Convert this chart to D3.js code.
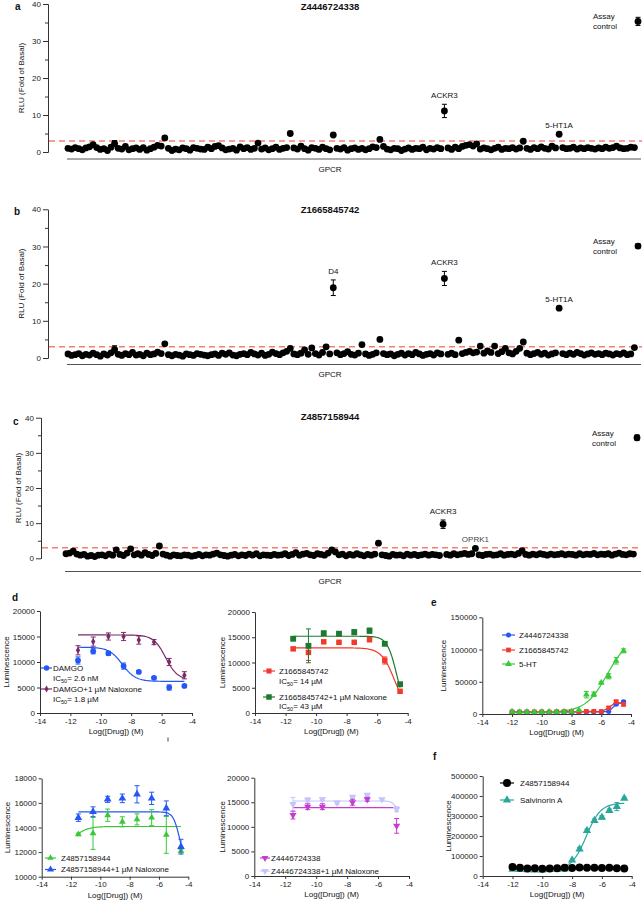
<!DOCTYPE html>
<html><head><meta charset="utf-8">
<script src="https://cdn.jsdelivr.net/npm/d3@7"></script>
<style>body{margin:0;background:#fff}svg{display:block;font-family:"Liberation Sans",Arial,sans-serif}</style>
</head><body>
<script>
// ---------------- DATA ----------------
const screenTicks = [0, 10, 20, 30, 40];
const screenMinor = [5, 15, 25, 35];
const threshold = 3;
const controlLabel = ["Assay", "control"];

const aTitle = "Z4446724338";
const aValues = [
1.0,0.8,1.2,0.9,0.6,1.1,1.4,2.0,1.2,0.7,0.9,0.4,1.3,2.3,1.0,0.8,1.5,0.6,0.9,1.1,
0.7,1.2,0.5,0.9,1.3,1.8,1.6,3.8,1.0,0.4,0.8,0.6,1.1,0.9,0.5,1.2,1.0,0.8,0.7,1.3,
0.9,1.5,1.7,1.1,0.6,0.8,1.0,0.5,1.4,0.9,1.2,0.7,1.0,2.4,0.8,1.1,0.6,0.9,1.3,0.7,
1.0,1.2,5.0,1.1,0.8,1.6,0.9,0.5,1.2,1.0,0.7,1.3,0.9,0.6,4.6,1.0,0.8,1.2,0.5,0.9,
1.1,0.7,1.0,0.6,0.9,1.4,1.2,3.4,1.5,0.8,0.6,1.0,0.9,0.4,0.8,1.1,0.7,1.0,0.9,1.3,
0.6,1.0,0.8,1.2,0.9,11.1,1.1,0.7,1.3,0.9,1.5,1.8,2.0,1.6,2.2,0.8,1.1,0.9,0.6,1.0,
1.3,0.7,1.0,0.9,1.2,0.8,1.1,2.9,1.0,0.7,1.2,0.9,1.4,1.0,0.8,1.6,1.1,4.8,1.2,0.9,
1.0,1.3,0.8,1.1,0.9,1.2,1.0,0.8,1.1,0.9,1.3,1.0,1.2,1.6,1.1,0.9,1.0,1.3,1.2,35.3];
const aErrors = [[13,0.8],[62,0.5],[105,1.8],[159,1.1]];
const aLabels = [[105,"ACKR3"],[137,"5-HT1A"]];

const bTitle = "Z1665845742";
const bValues = [
1.1,0.7,0.9,1.2,0.6,1.0,0.8,1.3,0.9,0.5,1.1,0.8,1.4,2.3,1.0,0.7,1.2,0.9,1.5,0.8,
1.0,0.6,1.3,0.9,1.1,1.6,1.2,3.8,0.9,0.6,1.0,0.8,0.5,1.1,0.9,0.7,1.2,1.0,0.8,0.6,
0.9,1.1,0.7,1.3,1.0,1.4,0.8,0.6,1.0,1.2,0.9,1.5,1.1,0.8,1.3,0.7,1.0,1.6,1.2,0.9,
1.4,1.8,2.6,1.1,0.9,1.3,2.2,1.0,2.7,1.2,0.8,1.5,3.0,1.1,18.9,1.4,0.9,1.2,1.7,1.0,
0.8,1.3,3.6,1.1,0.7,1.0,1.4,5.0,1.2,0.9,1.1,0.6,1.0,1.3,0.8,1.2,0.9,1.5,1.1,0.7,
1.0,1.2,0.8,1.4,1.1,21.4,1.0,1.3,0.9,4.8,1.2,1.5,1.8,1.4,1.6,3.2,1.3,1.9,1.5,3.2,
1.2,1.7,2.6,1.4,1.1,1.8,2.6,4.3,1.3,0.9,1.2,1.5,1.0,1.3,0.8,1.1,1.4,13.4,1.2,0.9,
1.3,1.0,1.5,1.2,0.8,1.1,1.4,1.0,1.2,0.9,1.3,1.1,0.8,1.2,1.0,1.4,0.9,1.1,2.8,30.1];
const bErrors = [[13,1.0],[74,2.1],[105,1.9],[159,0.6]];
const bLabels = [[74,"D4"],[105,"ACKR3"],[137,"5-HT1A"]];

const cTitle = "Z4857158944";
const cValues = [
1.3,1.5,2.0,1.2,0.9,1.1,0.6,0.8,0.5,0.9,1.0,0.7,1.2,0.9,2.4,1.1,0.8,1.5,2.7,1.0,
1.3,0.9,1.6,1.1,0.8,1.4,3.5,1.2,0.9,0.6,1.0,0.8,0.7,1.0,0.9,0.6,0.8,1.1,0.7,1.0,
0.9,1.2,1.5,1.0,0.8,0.6,0.9,1.1,0.7,1.0,0.8,1.2,0.9,1.3,0.7,1.0,0.9,0.8,1.1,0.9,
1.0,1.3,0.8,1.1,1.6,0.9,1.2,1.4,1.0,0.8,1.3,1.1,0.9,1.5,2.4,1.8,1.0,1.2,0.7,1.1,
0.9,1.3,1.0,0.7,1.1,0.9,1.2,4.3,1.0,0.8,0.6,1.1,0.9,1.0,0.7,1.2,0.9,1.1,0.8,1.0,
1.2,0.9,1.1,1.0,0.8,9.7,1.1,0.9,1.3,1.0,1.2,1.4,1.1,1.3,2.8,1.0,0.8,1.1,1.2,0.9,
1.0,1.3,0.9,1.1,1.2,1.0,1.4,2.2,1.1,0.9,1.2,1.0,1.3,1.1,0.9,1.2,1.0,1.1,1.3,1.0,
1.2,1.1,0.9,1.3,1.0,1.2,1.1,1.4,1.0,1.2,1.1,1.3,0.9,1.2,1.5,1.1,1.0,1.3,1.2,34.3];
const cErrors = [[18,0.4],[105,1.2],[159,0.8]];
const cLabels = [[105,"ACKR3"],[114,"OPRK1"]];

// dose-response panels
const xTicks = [-14, -12, -10, -8, -6, -4];
const dose8 = [-11.5,-10.5,-9.5,-8.5,-7.5,-6.5,-5.5,-4.5];

const damgo      = [10300,12100,11700,9200,8050,6900,5000,5300];
const damgoErr   = [700,500,400,600,200,200,500,250];
const damgoNal   = [12300,14000,15000,15000,14300,13900,10000,7400];
const damgoNalErr= [900,900,700,800,800,500,700,700];
const damgoFit    = {top:12900, bottom:6200, logC:-8.585, hill:1};
const damgoNalFit = {top:15300, bottom:6500, logC:-5.74, hill:1.1};

const z166      = [12700,12000,14100,14000,14000,14500,10400,4300];
const z166Err   = [200,1600,200,200,200,300,700,200];
const z166Nal   = [14700,13300,15800,15700,16000,16300,13700,5700];
const z166NalErr= [200,3350,400,300,500,500,200,300];
const z166Fit    = {top:12900, bottom:0, logC:-4.854, hill:1};
const z166NalFit = {top:15200, bottom:0, logC:-4.72, hill:1.4};

const z485      = [13440,13520,15000,14470,14660,14800,13400,12090];
const z485Err   = [100,1300,500,400,450,650,1500,150];
const z485Nal   = [14800,15280,16290,16370,16700,16370,15560,12440];
const z485NalErr= [300,400,250,350,700,500,600,600];
const z485Fit    = {top:14080, bottom:12800, logC:-11.6, hill:-1};
const z485NalFit = {top:15270, bottom:11000, logC:-4.6, hill:2};

const doseBM   = [-11.5,-10.55,-9.6,-8.65,-7.65,-6.7,-5.75,-4.8];
const z444     = [12400,14100,14100,null,15000,15600,null,10200];
const z444Err  = [800,600,600,null,600,400,null,1500];
const z444Nal  = [14600,15500,15600,14900,16100,16500,15600,13600];
const z444NalErr=[1400,400,300,300,200,300,200,500];
const z444Fit    = {top:13900, bottom:13900, logC:-6, hill:1};
const z444NalFit = {top:15260, bottom:10000, logC:-4.65, hill:2.5};

const dose16 = [-12,-11.5,-11,-10.5,-10,-9.5,-9,-8.5,-8,-7.5,-7,-6.5,-6,-5.5,-5,-4.5];
const eZ444 = [3500,3000,3200,3000,3100,3000,3200,3300,3000,3200,3100,3400,3300,4000,15000,19000];
const eZ444Err = [0,0,0,0,0,0,0,0,0,0,0,0,0,0,1500,2000];
const eZ166 = [3200,3000,3300,3200,3300,3000,3500,3700,3500,3600,4000,4200,3800,9500,19000,15000];
const eZ166Err = [0,0,0,0,0,0,0,0,0,0,0,0,0,2000,2500,2500];
const e5HT = [3500,3000,3200,3000,3200,3300,3200,3500,3800,6000,30000,30500,48500,58500,82500,98000];
const e5HTErr = [0,0,0,0,0,0,0,0,0,0,5000,3500,1500,4000,5000,3000];
const e5HTFit = {top:120000, bottom:3000, logC:-5.6, hill:-0.6};

const fZ485 = [45000,41000,37000,39000,36000,37000,39000,41000,40000,42000,41000,41000,40000,41000,39000,38000];
const fSalv = [33000,32000,31000,30000,30000,32000,33000,35000,80000,135000,227000,277000,293000,327000,347000,388000];
const fSalvErr = [0,0,0,0,0,0,0,0,0,8000,8000,8000,8000,8000,20000,6000];
const fSalvFit = {top:365000, bottom:32000, logC:-7.05, hill:-0.9};

// ---------------- DRAWING ----------------
const FONT = '"Liberation Sans",Arial,sans-serif';
const svg = d3.select("body").append("svg").attr("width",643).attr("height",900);

function styleAxis(sel){
  sel.selectAll("path,line").attr("stroke","#333").attr("stroke-width",1);
  sel.selectAll("text").attr("font-size",8).attr("fill","#222").attr("font-family",FONT);
}
function txt(g,x,y,s,o={}){
  return g.append("text").attr("x",x).attr("y",y).attr("dy","0.35em")
    .attr("font-size",o.size||8).attr("font-weight",o.bold?"bold":"normal")
    .attr("text-anchor",o.anchor||"start").attr("fill",o.fill||"#111").text(s);
}

function screenPanel(o){
  const g = svg.append("g");
  const y = d3.scaleLinear().domain([0,40]).range([o.y0,o.y40]);
  const x = d3.scaleLinear().domain([0,o.vals.length-1]).range([o.xa,o.xb]);
  styleAxis(g.append("g").attr("transform",`translate(${o.axisX},0)`)
    .call(d3.axisLeft(y).tickValues(screenTicks).tickSize(5).tickSizeOuter(0).tickPadding(2)));
  styleAxis(g.append("g").attr("transform",`translate(${o.axisX},0)`)
    .call(d3.axisLeft(y).tickValues(screenMinor).tickSize(3).tickSizeOuter(0).tickFormat(()=>"")));
  g.append("line").attr("x1",o.axisX+1).attr("x2",642).attr("y1",y(threshold)).attr("y2",y(threshold))
    .attr("stroke","#f47f6b").attr("stroke-width",1.5).attr("stroke-dasharray","6,4");
  g.append("g").selectAll("circle").data(o.vals).join("circle")
    .attr("cx",(d,i)=>x(i)).attr("cy",d=>y(d)).attr("r",3.4).attr("fill","#000");
  const eb = g.append("g").attr("stroke","#000").attr("stroke-width",1);
  o.errs.forEach(([i,e])=>{
    const v=o.vals[i], cx=x(i);
    eb.append("line").attr("x1",cx).attr("x2",cx).attr("y1",y(v-e)).attr("y2",y(v+e));
    [v-e,v+e].forEach(t=>eb.append("line").attr("x1",cx-2.5).attr("x2",cx+2.5).attr("y1",y(t)).attr("y2",y(t)));
  });
  o.labels.forEach(([i,s])=>{
    const e=(o.errs.find(d=>d[0]===i)||[0,0])[1];
    txt(g,x(i),y(o.vals[i]+e)-9,s,{anchor:"middle",fill:s==="OPRK1"?"#444":"#111"});
  });
  const last=o.vals.length-1;
  txt(g,x(last)-45,y(o.vals[last])-5,controlLabel[0]);
  txt(g,x(last)-45,y(o.vals[last])+5,controlLabel[1]);
  g.append("line").attr("x1",o.xa-1).attr("x2",641).attr("y1",o.lineY).attr("y2",o.lineY)
    .attr("stroke","#555").attr("stroke-width",1.2);
  txt(g,330,o.lineY+10,"GPCR",{anchor:"middle"});
  txt(g,330,o.titleY,o.title,{anchor:"middle",bold:true,size:9.5});
  txt(g,o.letter[0],o.letter[1],o.letter[2],{bold:true,size:10});
  g.append("text").attr("transform",`translate(${o.ylx},${(o.y0+o.y40)/2}) rotate(-90)`)
    .attr("text-anchor","middle").attr("dy","0.35em").attr("font-size",8).attr("fill","#111")
    .text("RLU (Fold of Basal)");
}

screenPanel({vals:aValues,errs:aErrors,labels:aLabels,title:aTitle,y0:152,y40:4,axisX:48,xa:68,xb:638,
  lineY:159,titleY:7,letter:[15,6,"a"],ylx:21});
screenPanel({vals:bValues,errs:bErrors,labels:bLabels,title:bTitle,y0:358,y40:209.3,axisX:48,xa:68,xb:638,
  lineY:364.5,titleY:210,letter:[14,211,"b"],ylx:21});
screenPanel({vals:cValues,errs:cErrors,labels:cLabels,title:cTitle,y0:558.3,y40:417.7,axisX:41,xa:66,xb:637,
  lineY:571.5,titleY:417,letter:[13,421,"c"],ylx:18.5});

function fourPL(p){ return x => p.bottom + (p.top-p.bottom)/(1+Math.pow(10,(x-p.logC)*p.hill)); }

function dosePanel(o){
  const g = svg.append("g");
  const x = d3.scaleLinear().domain([-14,-4]).range([o.x0,o.x1]);
  const y = d3.scaleLinear().domain(o.yDomain).range([o.y0,o.y1]);
  styleAxis(g.append("g").attr("transform",`translate(0,${o.y0})`)
    .call(d3.axisBottom(x).tickValues(xTicks).tickFormat(d=>String(d)).tickSize(3).tickSizeOuter(0).tickPadding(2)));
  styleAxis(g.append("g").attr("transform",`translate(${o.x0},0)`)
    .call(d3.axisLeft(y).tickValues(o.yTicks).tickFormat(d=>String(d)).tickSize(3).tickSizeOuter(0).tickPadding(2)));
  txt(g,(o.x0+o.x1)/2,o.y0+18,"Log([Drug]) (M)",{anchor:"middle"});
  g.append("text").attr("transform",`translate(${o.ylx},${(o.y0+o.y1)/2}) rotate(-90)`)
    .attr("text-anchor","middle").attr("dy","0.35em").attr("font-size",8).attr("fill","#111").text("Luminescence");
  return {g,x,y};
}

const SYM = {circle:d3.symbolCircle, square:d3.symbolSquare, tri:d3.symbolTriangle, tridown:d3.symbolTriangle, diamond:d3.symbolDiamond};
function marker(g,cx,cy,sym,size,color){
  g.append("path").attr("d",d3.symbol(SYM[sym],size)())
    .attr("transform",`translate(${cx},${cy})${sym==="tridown"?" rotate(180)":""}`).attr("fill",color);
}
function series(P,xs,ys,errs,color,sym,size){
  const g=P.g.append("g");
  xs.forEach((xv,i)=>{
    const v=ys[i]; if(v==null) return;
    const e=errs?errs[i]:0;
    if(e){
      const cx=P.x(xv);
      g.append("line").attr("x1",cx).attr("x2",cx).attr("y1",P.y(v-e)).attr("y2",P.y(v+e)).attr("stroke",color).attr("stroke-width",1);
      [v-e,v+e].forEach(t=>g.append("line").attr("x1",cx-2.5).attr("x2",cx+2.5).attr("y1",P.y(t)).attr("y2",P.y(t)).attr("stroke",color).attr("stroke-width",1));
    }
    marker(g,P.x(xv),P.y(v),sym,size,color);
  });
}
function fitCurve(P,p,from,to,color){
  const f=fourPL(p);
  const pts=d3.range(from,to+1e-6,0.05).map(v=>[P.x(v),P.y(f(v))]);
  P.g.append("path").attr("d",d3.line()(pts)).attr("fill","none").attr("stroke",color).attr("stroke-width",1.2);
}
function connect(P,xs,ys,color){
  P.g.append("path").attr("d",d3.line()(xs.map((v,i)=>[P.x(v),P.y(ys[i])]))).attr("fill","none").attr("stroke",color).attr("stroke-width",1.2);
}
function legendItem(g,x1,x2,yy,color,sym,size,label,tx){
  g.append("line").attr("x1",x1).attr("x2",x2).attr("y1",yy).attr("y2",yy).attr("stroke",color).attr("stroke-width",1.2);
  marker(g,(x1+x2)/2,yy,sym,size,color);
  txt(g,tx,yy,label);
}
function icText(g,x,y,val){
  const t=g.append("text").attr("x",x).attr("y",y).attr("dy","0.35em").attr("font-size",8).attr("fill","#111");
  t.append("tspan").text("IC");
  t.append("tspan").attr("font-size",5.5).attr("dy","2").text("50");
  t.append("tspan").attr("dy","-2").text("= "+val);
}

const BLUE="#2457f5", PURPLE="#7a2a68", RED="#f23a2c", DGREEN="#1c7a30", LGREEN="#38c838",
      MAGENTA="#c63ccf", LAV="#c3c6fa", TEAL="#2aa79b";

// d top-left
const P1 = dosePanel({x0:40,x1:192,y0:713,y1:611,yDomain:[0,20000],yTicks:[0,5000,10000,15000,20000],ylx:6});
fitCurve(P1,damgoFit,-11.5,-4.5,BLUE);
fitCurve(P1,damgoNalFit,-11.5,-4.5,PURPLE);
series(P1,dose8,damgo,damgoErr,BLUE,"circle",26);
series(P1,dose8,damgoNal,damgoNalErr,PURPLE,"diamond",16);
legendItem(P1.g,41,52,668,BLUE,"circle",24,"DAMGO",53);
icText(P1.g,53,678,"2.6 nM");
legendItem(P1.g,41,52,689,PURPLE,"diamond",14,"DAMGO+1 µM Naloxone",53);
icText(P1.g,53,699,"1.8 µM");
P1.g.append("line").attr("x1",168).attr("x2",168).attr("y1",737.5).attr("y2",741.5).attr("stroke","#444").attr("stroke-width",1);
txt(P1.g,12,597,"d",{bold:true,size:10});

// d top-middle
const P2 = dosePanel({x0:255,x1:407.7,y0:713,y1:612,yDomain:[0,20000],yTicks:[0,5000,10000,15000,20000],ylx:222});
fitCurve(P2,z166Fit,-11.5,-4.5,RED);
fitCurve(P2,z166NalFit,-11.5,-4.5,DGREEN);
series(P2,dose8,z166,z166Err,RED,"square",30);
series(P2,dose8,z166Nal,z166NalErr,DGREEN,"square",34);
legendItem(P2.g,263,275,671,RED,"square",26,"Z1665845742",279);
icText(P2.g,279,681,"14 µM");
legendItem(P2.g,263,275,697,DGREEN,"square",30,"Z1665845742+1 µM Naloxone",279);
icText(P2.g,279,706,"43 µM");

// e
const P3 = dosePanel({x0:482.3,x1:631,y0:714,y1:617.3,yDomain:[0,150000],yTicks:[0,50000,100000,150000],ylx:443});
connect(P3,dose16,eZ444,BLUE);
connect(P3,dose16,eZ166,RED);
fitCurve(P3,e5HTFit,-12,-4.5,LGREEN);
series(P3,dose16,eZ444,eZ444Err,BLUE,"circle",20);
series(P3,dose16,eZ166,eZ166Err,RED,"square",22);
series(P3,dose16,e5HT,e5HTErr,LGREEN,"tri",20);
legendItem(P3.g,502,515,635,BLUE,"circle",20,"Z4446724338",519);
legendItem(P3.g,502,515,650,RED,"square",22,"Z1665845742",519);
legendItem(P3.g,502,515,664,LGREEN,"tri",20,"5-HT",519);
txt(P3.g,431,602,"e",{bold:true,size:10});

// d bottom-left
const P4 = dosePanel({x0:41.7,x1:188.3,y0:876.7,y1:778.3,yDomain:[10000,18000],yTicks:[10000,12000,14000,16000,18000],ylx:7});
fitCurve(P4,z485Fit,-11.5,-4.5,LGREEN);
fitCurve(P4,z485NalFit,-11.5,-4.5,BLUE);
series(P4,dose8,z485,z485Err,LGREEN,"tri",20);
series(P4,dose8,z485Nal,z485NalErr,BLUE,"tri",26);
legendItem(P4.g,45,56,858,LGREEN,"tri",18,"Z4857158944",61);
legendItem(P4.g,45,56,869.5,BLUE,"tri",22,"Z4857158944+1 µM Naloxone",61);

// d bottom-middle
const P5 = dosePanel({x0:254.3,x1:409,y0:876,y1:777.7,yDomain:[0,20000],yTicks:[0,5000,10000,15000,20000],ylx:222});
fitCurve(P5,z444NalFit,-11.5,-4.8,LAV);
fitCurve(P5,z444Fit,-11.5,-4.8,MAGENTA);
series(P5,doseBM,z444Nal,z444NalErr,LAV,"tridown",24);
series(P5,doseBM,z444,z444Err,MAGENTA,"tridown",22);
legendItem(P5.g,260,270,858,MAGENTA,"tridown",20,"Z4446724338",271);
legendItem(P5.g,260,270,871,LAV,"tridown",22,"Z4446724338+1 µM Naloxone",271);

// f
const P6 = dosePanel({x0:482.7,x1:631.7,y0:876,y1:776,yDomain:[0,500000],yTicks:[0,100000,200000,300000,400000,500000],ylx:448});
fitCurve(P6,fSalvFit,-12,-4.5,TEAL);
connect(P6,dose16,fZ485,"#000");
series(P6,dose16,fSalv,fSalvErr,TEAL,"tri",30);
series(P6,dose16,fZ485,null,"#000","circle",50);
legendItem(P6.g,500,514,783,"#000","circle",50,"Z4857158944",520);
legendItem(P6.g,500,514,800,TEAL,"tri",30,"Salvinorin A",520);
txt(P6.g,433,756,"f",{bold:true,size:10});
</script></body></html>
